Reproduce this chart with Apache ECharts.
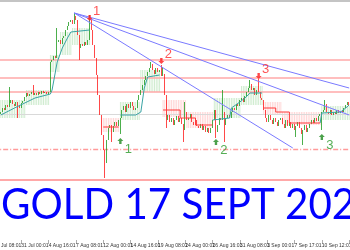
<!DOCTYPE html>
<html><head><meta charset="utf-8">
<script src="https://cdn.jsdelivr.net/npm/echarts@6/dist/echarts.min.js"></script>
<style>html,body{margin:0;padding:0;background:#fff;overflow:hidden}#c{width:350px;height:250px}</style>
</head><body><div id="c"></div>
<script>
// ---- data (H4 bars of XAUUSD) ----
const tickLabels = ['28 Jul 08:01','31 Jul 00:01','4 Aug 16:01','7 Aug 08:01','12 Aug 00:01','14 Aug 16:01','19 Aug 08:01','24 Aug 00:01','26 Aug 16:01','31 Aug 08:01','3 Sep 00:01','7 Sep 17:01','10 Sep 12:01'];
const firstOpen = 1952.5;
const closes = [
 1955,1960,1957.5,1963.75,1961.25,1966.25,1970,1965,1962.5,1967.5,
 1963.75,1960,1966.25,1968.75,1973.75,1978.75,1975,1977.5,1980,1976.25,
 1978.75,1976.25,1980,1977.5,1981.25,1978.75,1980,1977.5,1980,2017.5,
 2020,2025,2022.5,2042.5,2045,2040,2047.5,2050,2057.5,2062.5,
 2067.5,2070,2065,2075,2070,2051.25,2035,2040,2037.5,2042.5,
 2038.75,2045,2070,2057.5,2038.75,2022.5,2001.25,1976.25,1951.25,1926.25,
 1907.5,1891.25,1920,1935,1938.75,1930,1937.5,1942.5,1937.5,1945,
 1947.5,1957.5,1962.5,1955,1965,1960,1967.5,1962.5,1957.5,1960,
 1970,1976.25,1982.5,1988.75,1995,2000,2005,2010,2015,2007.5,
 2002.5,2010,2005,2007.5,2000,2002.5,1976.25,1945,1951.25,1942.5,
 1947.5,1938.75,1945,1950,1942.5,1947.5,1940,1932.5,1955,1945,
 1947.5,1952.5,1942.5,1938.75,1945,1937.5,1935,1940,1932.5,1937.5,
 1930,1935,1928.75,1935,1945,1957.5,1930,1938.75,1947.5,1945,
 1955,1938.75,1947.5,1951.25,1947.5,1955,1960,1957.5,1965,1962.5,
 1970,1972.5,1967.5,1975,1980,1985,1990,1982.5,1985,1976.25,
 1982.5,1980,1972.5,1970,1957.5,1947.5,1942.5,1951.25,1945,1940,
 1947.5,1942.5,1937.5,1945,1947.5,1940,1935,1945,1937.5,1942.5,
 1935,1940,1932.5,1937.5,1942.5,1935,1927.5,1932.5,1938.75,1930,
 1935,1940,1945,1941.25,1947.5,1943.75,1950,1952.5,1955,1957.5,
 1965,1955,1952.5,1957.5,1951.25,1955,1952.5,1957.5,1953.75,1956.25,
 1955,1960,1963.75,1967.5,1962.5
];
const highSpikes = {5:1986.25,19:1988.75,33:2060,43:2078.75,52:2076.25,88:2017.5,94:2013.75,95:2011.25,108:1967.5,130:1982.5,146:1995,151:1996.25,190:1970};
const lowSpikes = {10:1947.5,46:2020,61:1872.5,65:1917.5,70:1927.5,97:1935,107:1917.5,126:1922.5,131:1917.5,173:1923.75,177:1913.75,188:1932.5};
// pale background bars: [firstBar, lastBar, low, high, up(1)/down(0)]
const paleBands = [
 [0,14,1947.5,1970,1],[15,28,1963.75,1982.5,1],[29,34,2005,2026.25,1],[35,41,2026.25,2055,1],[42,52,2038.75,2060,1],
 [60,69,1930,1947.5,0],
 [70,81,1945,1967.5,1],[82,93,1980,2007.5,1],
 [95,108,1948.75,1970,0],[109,124,1935,1955,0],
 [125,140,1947.5,1972.5,1],[141,153,1963.75,1987.5,1],
 [154,164,1951.25,1967.5,0],[165,187,1938.75,1955,0],
 [188,204,1945,1962.5,1]
];
const pinkLevels = [2020,1997.5,1980];
const greyLevel = 1952.5;
const dashLevel = 1908.75;
const bottomLevel = 1870;
const trendUp = [
 [[0,1951.25],[8,1960],[14,1966.25],[20,1972.5],[29,1977.5],[30,1982.5],[33,2017.5],[36,2035],[39,2047.5],[41,2055],[42,2057.5],[52,2057.5]],
 [[70,1951.25],[79,1951.25],[82,1955],[84,1985],[86,1998.75],[87,2001.25],[93,2001.25]],
 [[124,1945],[134,1947.5],[135,1960],[140,1967.5],[143,1972.5],[146,1978.75],[153,1978.75]],
 [[187,1941.25],[188,1953.75],[199,1955],[202,1960],[204,1963.75]]
];
const trendDown = [
 [[60,1936.25],[69,1936.25]],
 [[95,1957.5],[105,1957.5],[105,1947.5],[114,1947.5],[114,1938.75],[124,1938.75]],
 [[154,1960],[161,1960],[161,1955],[169,1955],[169,1941.25],[187,1941.25]]
];
const fanLines = [
 [[43,2078.75],[204,1985]],
 [[43,2078.75],[204,1951.25]],
 [[43,2078.75],[171,1910]]
];
const sellSignals = [[52,2072.5,'1'],[94,2018.75,'2'],[151,2000,'3']];
const buySignals = [[70,1918.75,'1'],[126,1917.5,'2'],[188,1923.75,'3']];
const title = 'GOLD 17 SEPT 2020';

// ---- build ----
const LEAD = 4, STEP = 16;
const N = closes.length + LEAD;
const cats = [];
for (let k = 0; k < N; k++) cats.push(String(k));
const candles = [];
for (let k = 0; k < LEAD; k++) candles.push(['-','-','-','-']);
closes.forEach((c, i) => {
  const o = i === 0 ? firstOpen : closes[i-1];
  const lo = lowSpikes[i] !== undefined ? lowSpikes[i] : Math.min(o, c);
  const hi = highSpikes[i] !== undefined ? highSpikes[i] : Math.max(o, c);
  candles.push([o, c, lo, hi]);
});
const paleData = [];
paleBands.forEach(b => { for (let i = b[0]; i <= b[1]; i++) paleData.push([i+LEAD, b[2], b[3], b[4]]); });
function segData(segs){
  const out = [];
  segs.forEach((s, j) => { if (j) out.push(null); s.forEach(p => out.push([p[0]+LEAD, p[1]])); });
  return out;
}
const showTick = (idx) => idx % STEP === 0;
const chart = echarts.init(document.getElementById('c'), null, {renderer:'canvas'});
const pink = '#ffa8a8';
chart.setOption({
  animation: false,
  backgroundColor: '#fff',
  grid: {left: -6.83, right: 0, top: 0, bottom: 10, containLabel: false, outerBoundsMode: 'none'},
  xAxis: {
    type: 'category', data: cats, boundaryGap: true,
    axisLine: {show: false},
    axisTick: {show: true, alignWithLabel: true, interval: showTick, length: 4, lineStyle: {color: '#777', width: 0.6}},
    axisLabel: {show: true, hideOverlap: false, interval: showTick, formatter: (v, idx) => tickLabels[idx / STEP] || '', fontSize: 5, color: '#333', align: 'left', margin: 3, fontFamily: 'Liberation Sans'},
    splitLine: {show: false}
  },
  yAxis: {type: 'value', min: 1795, max: 2095, show: false, splitLine: {show: false}},
  series: [
    {
      type: 'custom', data: paleData, z: 3, silent: true,
      renderItem: (params, api) => {
        const x = api.value(0);
        const pTop = api.coord([x, api.value(2)]);
        const pBot = api.coord([x, api.value(1)]);
        const w = api.size([1, 0])[0] * 0.5;
        return {type: 'rect', shape: {x: pTop[0] - w/2, y: pTop[1], width: w, height: pBot[1] - pTop[1]},
                style: {fill: api.value(3) ? 'rgba(120,200,120,0.4)' : 'rgba(255,140,140,0.4)'}};
      }
    },
    {
      type: 'candlestick', data: candles, barWidth: 1, z: 5,
      itemStyle: {color: '#1e9a1e', color0: '#ff1a1a', borderColor: '#1e9a1e', borderColor0: '#ff1a1a', borderWidth: 0.8},
      markLine: {
        silent: true, symbol: ['none','none'], label: {show: false}, animation: false,
        data: pinkLevels.map(v => ({yAxis: v, lineStyle: {color: pink, width: 1.5, type: 'solid'}}))
          .concat([
            {yAxis: greyLevel, lineStyle: {color: '#d9d9d9', width: 1, type: 'solid'}},
            {yAxis: dashLevel, lineStyle: {color: '#ff9a9a', width: 1.3, type: [5,2,1,2]}},
            {yAxis: bottomLevel, lineStyle: {color: pink, width: 1.8, type: 'solid'}}
          ])
      }
    },
    {type: 'line', data: segData(trendUp), symbol: 'none', connectNulls: false, z: 6, lineStyle: {color: '#39a3a3', width: 1}},
    {type: 'line', data: segData(trendDown), symbol: 'none', connectNulls: false, z: 6, lineStyle: {color: '#ff3a3a', width: 1}},
    {type: 'line', data: segData(fanLines), symbol: 'none', connectNulls: false, z: 7, lineStyle: {color: '#7a7aff', width: 1}},
    {
      type: 'scatter', z: 9, data: sellSignals.map(s => [s[0]+LEAD, s[1], s[2]]),
      symbol: 'path://M3,0 L7,0 L7,5 L10,5 L5,10 L0,5 L3,5 Z', symbolSize: [6,6],
      itemStyle: {color: '#ff1a1a'},
      label: {show: true, formatter: p => p.data[2], position: 'inside', offset: [7,-7], color: '#ff2a2a', fontSize: 13, fontFamily: 'Liberation Sans'}
    },
    {
      type: 'scatter', z: 9, data: buySignals.map(s => [s[0]+LEAD, s[1], s[2]]),
      symbol: 'path://M5,0 L10,5 L7,5 L7,10 L3,10 L3,5 L0,5 Z', symbolSize: [6,6],
      itemStyle: {color: '#1e8a1e'},
      label: {show: true, formatter: p => p.data[2], position: 'inside', offset: [8,8], color: '#2a9a2a', fontSize: 13, fontFamily: 'Liberation Sans'}
    }
  ],
  graphic: [
    {type: 'rect', shape: {x: 0, y: 0, width: 350, height: 2}, style: {fill: '#c4c4c4'}, z: 20},
    {type: 'text', x: 1, y: 205, scaleX: 0.96, z: 30, style: {text: title, fill: '#0000ff', font: 'normal 42px Lato', verticalAlign: 'middle'}}
  ]
});
</script></body></html>
